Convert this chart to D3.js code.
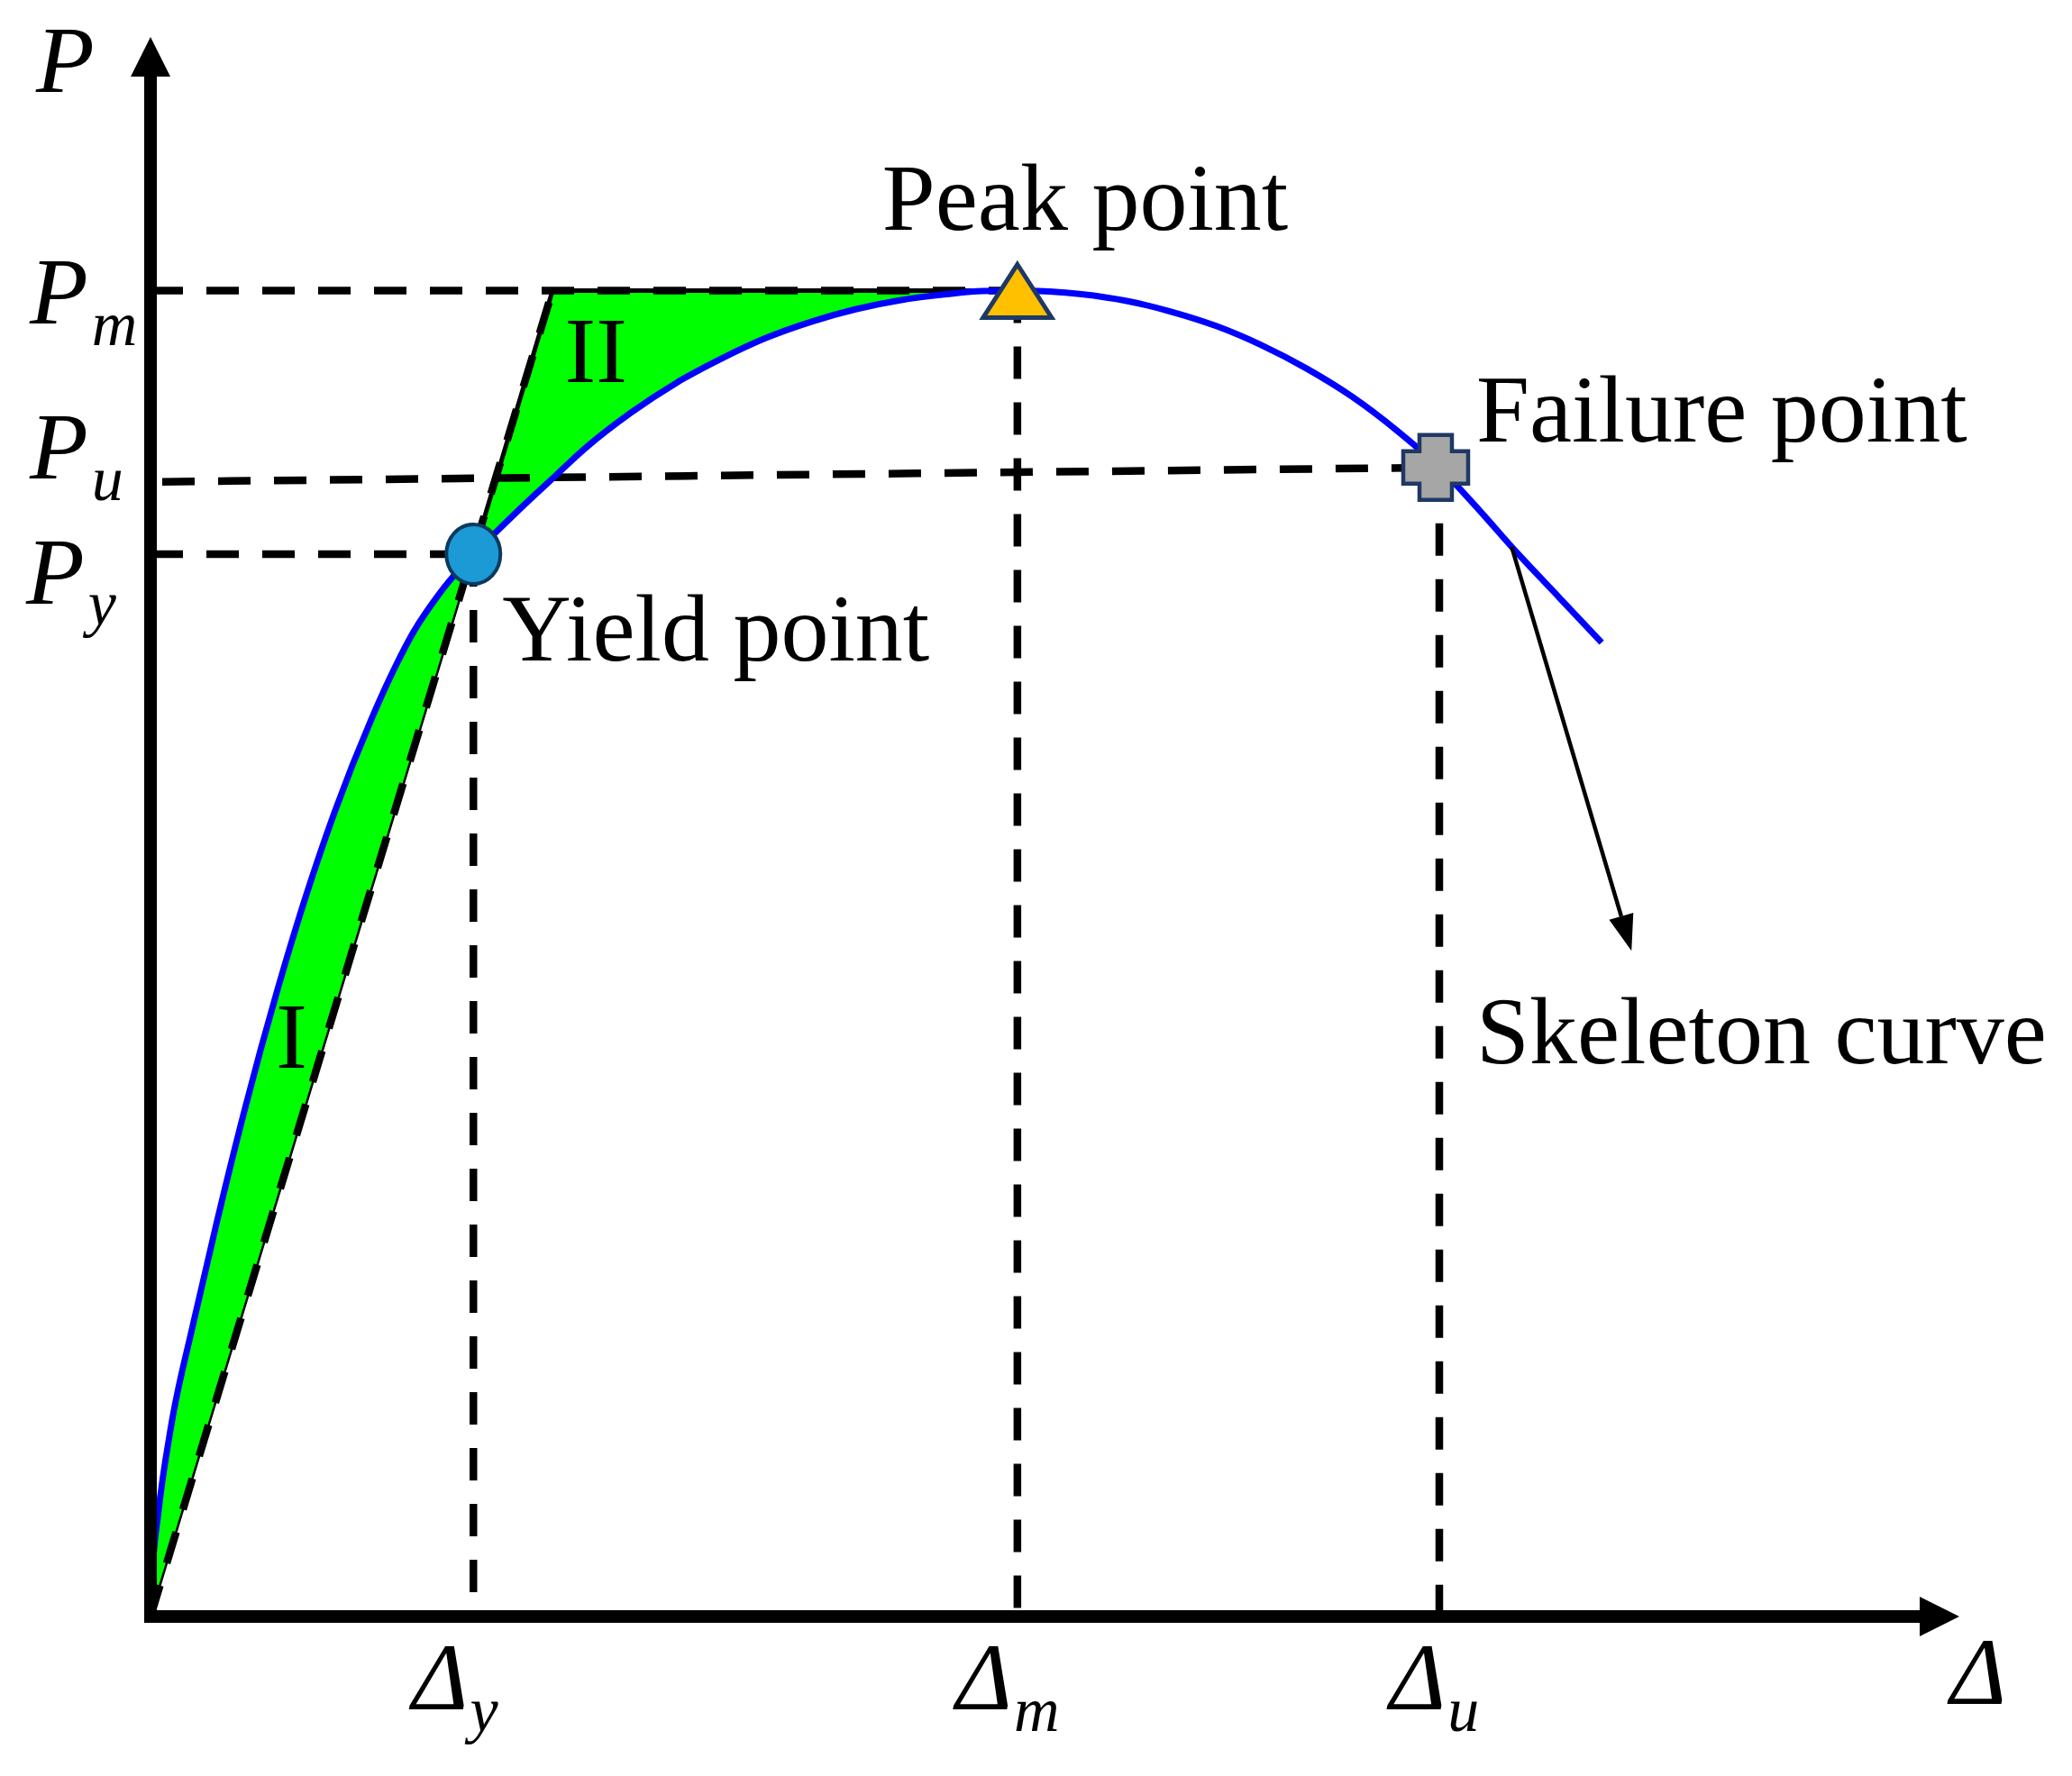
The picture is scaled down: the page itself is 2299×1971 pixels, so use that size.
<!DOCTYPE html>
<html>
<head>
<meta charset="utf-8">
<script src="https://cdn.jsdelivr.net/npm/d3@7"></script>
<style>
  body { margin: 0; background: #fff; }
  text { font-family: "Liberation Serif", "Times New Roman", serif; fill: #000; }
</style>
</head>
<body>
<div id="chart"></div>
<script>
// skeleton curve: displacement (D) and load (P)
var curveD = [0, 0.05, 0.17, 0.45, 0.94, 1.45, 2.09, 2.80, 3.40, 4.08, 4.87, 5.41, 5.83, 6.37, 7.14,
              7.63, 8.23, 8.83, 9.63, 10.62, 11.62, 12.62, 13.61, 14.61, 15.61, 16.60, 17.60, 18.40, 19.17,
              20.59, 21.59, 22.58, 23.58, 24.57, 25.57, 26.57, 27.56, 28.50, 29.36, 30.21, 31.15, 32.09];
var curveP = [0, 1.08, 2.28, 4.19, 6.47, 8.67, 11.26, 13.86, 15.85, 17.85, 19.85, 21.04, 21.84, 22.64, 23.54,
              24.02, 24.60, 25.16, 25.90, 26.67, 27.33, 27.87, 28.33, 28.69, 28.97, 29.17, 29.30, 29.37, 29.38,
              29.30, 29.15, 28.91, 28.59, 28.17, 27.65, 27.03, 26.28, 25.46, 24.54, 23.58, 22.58, 21.58];

// characteristic points: yield, peak, failure
var pointNames = ["Yield point", "Peak point", "Failure point"];
var pointD = [7.14, 19.17, 28.50];
var pointP = [23.54, 29.38, 25.46];

// corner of the equivalent elasto-plastic line (on the Pm level)
var cornerD = 8.89;
// Pu guide line starts a little lower at the axis
var puStartP = 25.14;

// tick labels
var xTickValues = [7.14, 19.17, 28.50];
var xTickSubs = ["y", "m", "u"];
var yTickValues = [23.54, 25.14, 29.38];
var yTickSubs = ["y", "u", "m"];

// region labels
var regionNames = ["I", "II"];
var regionD = [3.12, 9.85];
var regionP = [12.16, 27.35];

// pointer to the skeleton curve
var arrowFrom = [30.1, 23.7];
var arrowTo = [32.75, 14.75];

var width = 2299, height = 1971;

var svg = d3.select("#chart")
  .append("svg")
    .attr("width", width)
    .attr("height", height);

var x = d3.scaleLinear().domain([0, 40]).range([167, 2174]);
var y = d3.scaleLinear().domain([0, 35]).range([1794, 41]);

var curve = curveD.map(function(d, i) { return [d, curveP[i]]; });

var line = d3.line()
  .x(function(d) { return x(d[0]); })
  .y(function(d) { return y(d[1]); })
  .curve(d3.curveMonotoneX);

var Dy = pointD[0], Dm = pointD[1], Du = pointD[2];
var Py = pointP[0], Pm = pointP[1], Pu = pointP[2];

// green region I: curve up to yield, back along the secant
var segI = curve.filter(function(d) { return d[0] <= Dy; });
svg.append("path")
  .attr("d", line(segI) + "Z")
  .attr("fill", "#00ff00")
  .attr("stroke", "#000")
  .attr("stroke-width", 2.5);

// green region II: curve from yield to peak, then along Pm and the secant
var segII = curve.filter(function(d) { return d[0] >= Dy && d[0] <= Dm; });
svg.append("path")
  .attr("d", line(segII) + "L" + x(cornerD) + "," + y(Pm) + "Z")
  .attr("fill", "#00ff00")
  .attr("stroke", "#000")
  .attr("stroke-width", 5)
  .attr("stroke-linejoin", "miter");

// dashed guide lines
var guides = [
  [[0, Pm], [Dm, Pm]],
  [[0, Py], [Dy, Py]],
  [[0, puStartP], [Du, Pu]],
  [[Dy, Py], [Dy, 0]],
  [[Dm, Pm], [Dm, 0]],
  [[Du, Pu], [Du, 0]],
  [[0, 0], [cornerD, Pm]]
];
svg.append("g")
  .selectAll("path")
  .data(guides)
  .enter().append("path")
    .attr("d", d3.line().x(function(d) { return x(d[0]); }).y(function(d) { return y(d[1]); }))
    .attr("fill", "none")
    .attr("stroke", "#000")
    .attr("stroke-width", 8.5)
    .attr("stroke-dasharray", "36,26")
    .attr("stroke-dashoffset", function(d, i) { return i == 2 ? 49 : 0; });

// skeleton curve
svg.append("path")
  .attr("d", line(curve))
  .attr("fill", "none")
  .attr("stroke", "#0000ff")
  .attr("stroke-width", 7);

// axes with arrow heads
var x0 = x(0), y0 = y(0), xEnd = x(40), yEnd = y(35);
svg.append("line")
  .attr("x1", x0).attr("y1", y0 + 7)
  .attr("x2", x0).attr("y2", yEnd + 40)
  .attr("stroke", "#000").attr("stroke-width", 14);
svg.append("line")
  .attr("x1", x0 - 7).attr("y1", y0)
  .attr("x2", xEnd - 40).attr("y2", y0)
  .attr("stroke", "#000").attr("stroke-width", 14);
svg.append("path")
  .attr("d", "M" + x0 + "," + yEnd + "L" + (x0 - 22) + "," + (yEnd + 44) + "L" + (x0 + 22) + "," + (yEnd + 44) + "Z")
  .attr("fill", "#000");
svg.append("path")
  .attr("d", "M" + xEnd + "," + y0 + "L" + (xEnd - 44) + "," + (y0 - 22) + "L" + (xEnd - 44) + "," + (y0 + 22) + "Z")
  .attr("fill", "#000");

// markers
svg.append("ellipse")
  .attr("cx", x(Dy)).attr("cy", y(Py))
  .attr("rx", 30).attr("ry", 33)
  .attr("fill", "#1b9ad6")
  .attr("stroke", "#0b3a5e")
  .attr("stroke-width", 4);

var tx = x(Dm), ty = y(Pm);
svg.append("path")
  .attr("d", "M" + tx + "," + (ty - 29) + "L" + (tx + 38) + "," + (ty + 30) + "L" + (tx - 38) + "," + (ty + 30) + "Z")
  .attr("fill", "#ffc000")
  .attr("stroke", "#1f3864")
  .attr("stroke-width", 5)
  .attr("stroke-linejoin", "miter");

var fx = x(Du) - 4, fy = y(Pu), s = 36, a = 18;
var plus = [[-a, -s], [a, -s], [a, -a], [s, -a], [s, a], [a, a], [a, s], [-a, s], [-a, a], [-s, a], [-s, -a], [-a, -a]];
svg.append("path")
  .attr("d", "M" + plus.map(function(p) { return (fx + p[0]) + "," + (fy + p[1]); }).join("L") + "Z")
  .attr("fill", "#a6a6a6")
  .attr("stroke", "#1f3864")
  .attr("stroke-width", 4.5);

// pointer arrow
var ax1 = x(arrowFrom[0]), ay1 = y(arrowFrom[1]), ax2 = x(arrowTo[0]), ay2 = y(arrowTo[1]);
var ang = Math.atan2(ay2 - ay1, ax2 - ax1), hl = 40, hw = 14;
var bx = ax2 - hl * Math.cos(ang), by = ay2 - hl * Math.sin(ang);
svg.append("line")
  .attr("x1", ax1).attr("y1", ay1)
  .attr("x2", bx).attr("y2", by)
  .attr("stroke", "#000").attr("stroke-width", 4.5);
svg.append("path")
  .attr("d", "M" + ax2 + "," + ay2 +
             "L" + (bx + hw * Math.sin(ang)) + "," + (by - hw * Math.cos(ang)) +
             "L" + (bx - hw * Math.sin(ang)) + "," + (by + hw * Math.cos(ang)) + "Z")
  .attr("fill", "#000");

// point labels
var labelPos = [[x(Dy) + 32, y(Py) + 118], [x(Dm) - 150, y(Pm) - 67], [x(Du) + 41, y(Pu) - 29]];
svg.append("g")
  .selectAll("text")
  .data(pointNames)
  .enter().append("text")
    .attr("x", function(d, i) { return labelPos[i][0]; })
    .attr("y", function(d, i) { return labelPos[i][1]; })
    .attr("font-size", 106)
    .text(function(d) { return d; });

svg.append("text")
  .attr("x", x(Du) + 41).attr("y", 1180)
  .attr("font-size", 106)
  .text("Skeleton curve");

// region labels
svg.append("g")
  .selectAll("text")
  .data(regionNames)
  .enter().append("text")
    .attr("x", function(d, i) { return x(regionD[i]); })
    .attr("y", function(d, i) { return y(regionP[i]); })
    .attr("text-anchor", "middle")
    .attr("font-size", 104)
    .text(function(d) { return d; });

// axis titles
svg.append("text")
  .attr("x", 40).attr("y", 102)
  .attr("font-size", 106).attr("font-style", "italic")
  .text("P");
svg.append("text")
  .attr("x", x(40) - 10).attr("y", 1891)
  .attr("font-size", 106).attr("font-style", "italic")
  .text("\u0394");

// y tick labels
var yLabelShift = [55, -4, 37];
var ySubShift = [23, 24, 24];
svg.append("g")
  .selectAll("text")
  .data(yTickValues)
  .enter().append("text")
    .attr("x", function(d, i) { return i == 0 ? 29 : 33; })
    .attr("y", function(d, i) { return y(d) + yLabelShift[i]; })
    .attr("font-size", 106).attr("font-style", "italic")
    .text("P")
  .append("tspan")
    .attr("dx", 4)
    .attr("dy", function(d, i) { return ySubShift[i]; })
    .attr("font-size", 70)
    .text(function(d, i) { return yTickSubs[i]; });

// x tick labels
var xLabelShift = [-68, -68, -55];
svg.append("g")
  .selectAll("text")
  .data(xTickValues)
  .enter().append("text")
    .attr("x", function(d, i) { return x(d) + xLabelShift[i]; })
    .attr("y", 1897)
    .attr("font-size", 106).attr("font-style", "italic")
    .text("\u0394")
  .append("tspan")
    .attr("dx", 2)
    .attr("dy", 24)
    .attr("font-size", 70)
    .text(function(d, i) { return xTickSubs[i]; });
</script>
</body>
</html>
